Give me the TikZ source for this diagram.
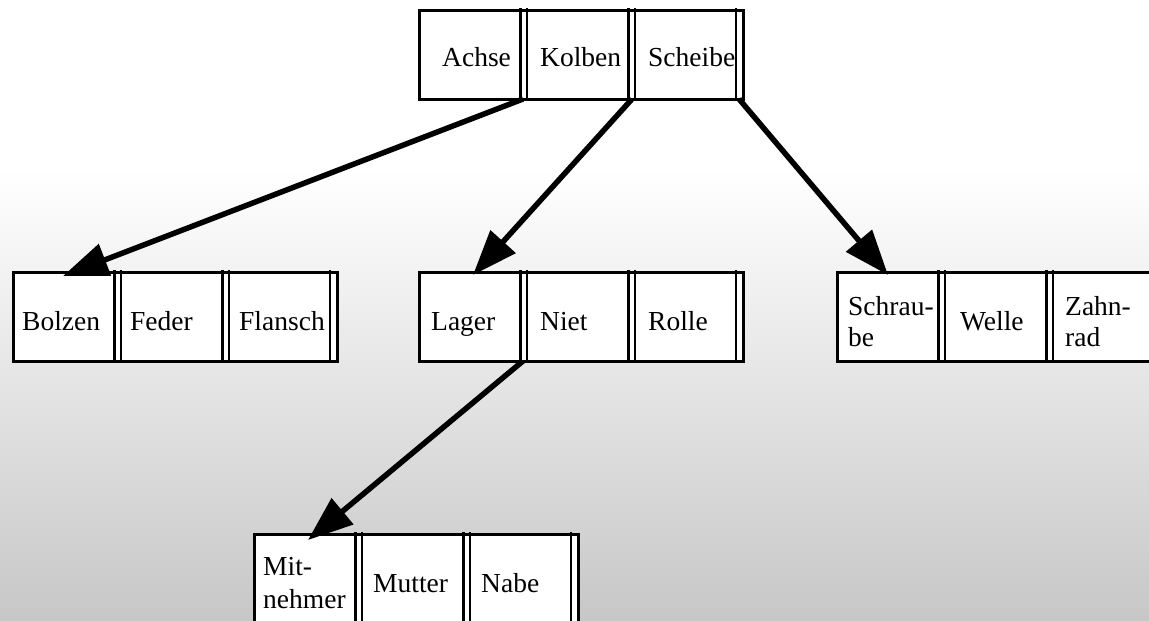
\documentclass[tikz,border=0pt]{standalone}
\usepackage{fontspec}
\setmainfont{Liberation Serif}
\usetikzlibrary{arrows.meta}
\definecolor{bgbottom}{gray}{0.78}
\tikzset{
  keybox/.style={draw=black, fill=white, line width=3pt, anchor=north west,
    minimum width=324pt, minimum height=89pt, inner sep=0pt, outer sep=0pt},
  divthick/.style={line width=3pt},
  divthin/.style={line width=2.2pt},
  keytext/.style={anchor=base west, inner sep=0pt, font=\fontsize{27.5}{32}\selectfont},
  ptr/.style={line width=5.5pt, -{Triangle[length=45pt,width=33pt]}},
}
\newcommand{\keydividers}[1]{%
  \foreach \dx in {101,209} {
    \draw[divthick] ([xshift=\dx pt, yshift=2pt]#1.north west) -- ([xshift=\dx pt, yshift=-2pt]#1.south west);
    \draw[divthin] ([xshift=\dx pt+7pt, yshift=2pt]#1.north west) -- ([xshift=\dx pt+7pt, yshift=-2pt]#1.south west);
  }
  \draw[divthin] ([xshift=317pt, yshift=2pt]#1.north west) -- ([xshift=317pt, yshift=-2pt]#1.south west);
}
\begin{document}
\begin{tikzpicture}[x=1pt,y=-1pt]
\clip (0,0) rectangle (1149,621);
\fill[white] (0,0) rectangle (1149,170);
\shade[top color=white, bottom color=bgbottom] (0,170) rectangle (1149,621);

% boxes
\node[keybox] (top) at (419,10) {};
\node[keybox] (b1) at (13,272) {};
\node[keybox] (b2) at (419,272) {};
\node[keybox] (b3) at (837,272) {};
\node[keybox] (b4) at (254,534) {};
\keydividers{top}
\keydividers{b1}
\keydividers{b2}
\keydividers{b3}
\keydividers{b4}

% texts
\node[keytext] (tAchse) at (442,66) {Achse};
\node[keytext] (tKolben) at (540,66) {Kolben};
\node[keytext] (tScheibe) at (648,66) {Scheibe};

\node[keytext] (tBolzen) at (22,330) {Bolzen};
\node[keytext] (tFeder) at (130,330) {Feder};
\node[keytext] (tFlansch) at (239,330) {Flansch};

\node[keytext] (tLager) at (431,330) {Lager};
\node[keytext] (tNiet) at (540,330) {Niet};
\node[keytext] (tRolle) at (648,330) {Rolle};

\node[keytext] (tSchrauA) at (848,315) {Schrau-};
\node[keytext] (tSchrauB) at (848,346) {be};
\node[keytext] (tWelle) at (960,330) {Welle};
\node[keytext] (tZahnA) at (1065,315) {Zahn-};
\node[keytext] (tZahnB) at (1065,346) {rad};

\node[keytext] (tMitA) at (263,575) {Mit-};
\node[keytext] (tMitB) at (263,608) {nehmer};
\node[keytext] (tMutter) at (373,592) {Mutter};
\node[keytext] (tNabe) at (481,592) {Nabe};

% pointer start / end points
\coordinate (p1s) at ([xshift=104pt]top.south west);
\coordinate (p2s) at ([xshift=213pt]top.south west);
\coordinate (p3s) at ([xshift=320pt]top.south west);
\coordinate (p4s) at ([xshift=104pt]b2.south west);
\coordinate (p1e) at ([xshift=50pt,yshift=-4pt]b1.north west);
\coordinate (p2e) at ([xshift=54pt,yshift=-3pt]b2.north west);
\coordinate (p3e) at ([xshift=51pt,yshift=-3pt]b3.north west);
\coordinate (p4e) at ([xshift=54pt,yshift=-6pt]b4.north west);

\draw[ptr] (p1s) -- (p1e);
\draw[ptr] (p2s) -- (p2e);
\draw[ptr] (p3s) -- (p3e);
\draw[ptr] (p4s) -- (p4e);
\end{tikzpicture}
\end{document}
